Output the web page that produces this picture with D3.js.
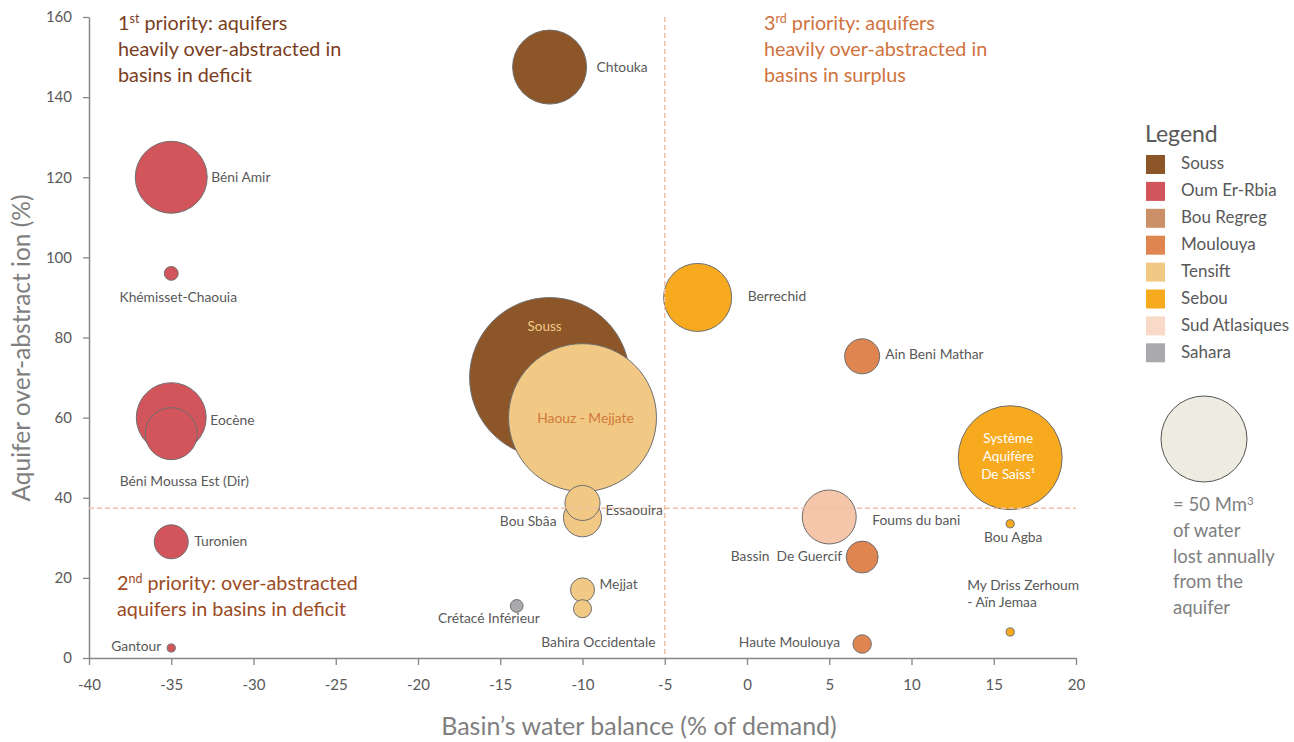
<!DOCTYPE html>
<html><head><meta charset="utf-8">
<script src="https://cdn.jsdelivr.net/npm/d3@7/dist/d3.min.js"></script>
<style>
body{margin:0;background:#fff;}
svg{font-family:Lato,"Open Sans",sans-serif;}
text{white-space:pre;}
</style></head>
<body><svg id="c" width="1294" height="742"></svg>
<script>
// ---------- DATA ----------
const names = ["Souss","Chtouka","Béni Amir","Khémisset-Chaouia","Eocène","Béni Moussa Est (Dir)","Turonien","Gantour",
  "Haouz - Mejjate","Bou Sbâa","Essaouira","Mejjat","Bahira Occidentale","Crétacé Inférieur",
  "Berrechid","Ain Beni Mathar","Système Aquifère De Saiss¹","Foums du bani","Bou Agba","Bassin  De Guercif",
  "My Driss Zerhoum - Aïn Jemaa","Haute Moulouya"];
const basinOf = ["Souss","Souss","Oum Er-Rbia","Oum Er-Rbia","Oum Er-Rbia","Oum Er-Rbia","Oum Er-Rbia","Oum Er-Rbia",
  "Tensift","Tensift","Tensift","Tensift","Tensift","Sahara",
  "Sebou","Moulouya","Sebou","Sud Atlasiques","Sebou","Moulouya","Sebou","Moulouya"];
const waterBalance = [-12,-12,-35,-35,-35,-35,-35,-35,-10,-10,-10,-10,-10,-14,-3,7,16,5,16,7,16,7];
const overAbstraction = [70,147.5,120,96,60,56,29,2.5,60,35,38.7,17,12.3,13,90,75.3,50,35.2,33.5,25.2,6.5,3.5];
const volumeLost = [173,37,35,1.3,33,18.3,7.8,0.45,148,9.8,8.3,3.9,2.2,1.1,31.3,8.3,73,19.7,0.45,6.9,0.45,2.3];

const basins = ["Souss","Oum Er-Rbia","Bou Regreg","Moulouya","Tensift","Sebou","Sud Atlasiques","Sahara"];
const basinColors = ["#8c5628","#d2555b","#cc9068","#df8550","#f1c985","#f8aa1f","#f6c6aa","#a9a9ae"];

const xTicks = [-40,-35,-30,-25,-20,-15,-10,-5,0,5,10,15,20];
const yTicks = [0,20,40,60,80,100,120,140,160];
const thresholdX = -5, thresholdY = 37.4;
const refVolume = 50;

// ---------- LAYOUT (label offsets in px) ----------
const labelLayout = {
  "Souss":{a:"middle",dx:-5,dy:-50,fill:"#f1c985",size:13.5},
  "Chtouka":{a:"start",dx:47,dy:1},
  "Béni Amir":{a:"start",dx:40,dy:1},
  "Khémisset-Chaouia":{a:"middle",dx:7,dy:25},
  "Eocène":{a:"start",dx:39,dy:4},
  "Béni Moussa Est (Dir)":{a:"middle",dx:13,dy:49},
  "Turonien":{a:"start",dx:23,dy:1},
  "Gantour":{a:"end",dx:-10,dy:0},
  "Haouz - Mejjate":{a:"middle",dx:3,dy:2,fill:"#d07a3a",size:13.8},
  "Bou Sbâa":{a:"end",dx:-26,dy:5},
  "Essaouira":{a:"start",dx:23,dy:9},
  "Mejjat":{a:"start",dx:17,dy:-4},
  "Bahira Occidentale":{a:"end",dx:73,dy:35},
  "Crétacé Inférieur":{a:"end",dx:23,dy:14},
  "Berrechid":{a:"start",dx:50,dy:0},
  "Ain Beni Mathar":{a:"start",dx:23,dy:-1},
  "Système Aquifère De Saiss¹":{a:"middle",dx:-2,dy:-18,fill:"#ffffff",size:13.5,lines:["Système","Aquifère","De Saiss¹"],lh:18},
  "Foums du bani":{a:"start",dx:43,dy:5},
  "Bou Agba":{a:"middle",dx:3,dy:15},
  "Bassin  De Guercif":{a:"end",dx:-20,dy:0},
  "My Driss Zerhoum - Aïn Jemaa":{a:"start",dx:-43,dy:-46,lines:["My Driss Zerhoum","- Aïn Jemaa"],lh:17},
  "Haute Moulouya":{a:"end",dx:-22,dy:0}
};

const svg = d3.select("#c");
const M = {l:89, r:1076, t:17, b:658};
const x = d3.scaleLinear().domain([-40,20]).range([M.l,M.r]);
const y = d3.scaleLinear().domain([0,160]).range([M.b,M.t]);
const rScale = d3.scaleSqrt().domain([0,refVolume]).range([0,43]);
const color = d3.scaleOrdinal().domain(basins).range(basinColors);

const axisCol = "#868686", tickTxt = "#595959";

// axes
const gx = svg.append("g").attr("transform",`translate(0,${M.b})`)
  .call(d3.axisBottom(x).tickValues(xTicks).tickFormat(d=>String(d)).tickSize(7).tickSizeOuter(0).tickPadding(14));
const gy = svg.append("g").attr("transform",`translate(${M.l},0)`)
  .call(d3.axisLeft(y).tickValues(yTicks).tickFormat(d=>String(d)).tickSize(6).tickSizeOuter(0).tickPadding(11));
[gx,gy].forEach(g=>{
  g.select(".domain").attr("stroke",axisCol).attr("stroke-width",1.5);
  g.selectAll(".tick line").attr("stroke",axisCol).attr("stroke-width",1.3);
  g.selectAll(".tick text").attr("fill",tickTxt).attr("font-size",15).attr("font-family","Lato,sans-serif");
});

// bubbles
const data = names.map((n,i)=>({name:n,basin:basinOf[i],x:waterBalance[i],y:overAbstraction[i],v:volumeLost[i]}));
svg.append("g").selectAll("circle").data(data).join("circle")
  .attr("cx",d=>x(d.x)).attr("cy",d=>y(d.y)).attr("r",d=>rScale(d.v))
  .attr("fill",d=>color(d.basin)).attr("stroke","#6e6e6e").attr("stroke-width",1);

// dashed thresholds
const dashCol = "#f0bfa6";
svg.append("line").attr("x1",x(thresholdX)).attr("x2",x(thresholdX)).attr("y1",y(160)).attr("y2",y(0))
  .attr("stroke",dashCol).attr("stroke-width",1.5).attr("stroke-dasharray","5,3");
svg.append("line").attr("x1",x(-40)).attr("x2",x(20)).attr("y1",y(thresholdY)).attr("y2",y(thresholdY))
  .attr("stroke",dashCol).attr("stroke-width",1.5).attr("stroke-dasharray","5,3");

// labels
const lg = svg.append("g");
data.forEach(d=>{
  const L = labelLayout[d.name];
  const cx = x(d.x)+L.dx, cy = y(d.y)+L.dy;
  const t = lg.append("text").attr("x",cx).attr("y",cy).attr("text-anchor",L.a)
    .attr("dominant-baseline","middle").attr("font-size",L.size||13.8).attr("fill",L.fill||"#595959");
  if(L.lines){
    L.lines.forEach((s,i)=>t.append("tspan").attr("x",cx).attr("y",cy+i*L.lh).text(s));
  } else t.text(d.name);
});

// annotations
function note(x0,y0,col,sup,head,lines){
  const fs = 19.8;
  const t = svg.append("text").attr("x",x0).attr("y",y0).attr("font-size",fs).attr("fill",col);
  t.append("tspan").text(head[0]);
  t.append("tspan").attr("font-size",12.5).attr("dy",-7).text(sup);
  t.append("tspan").attr("dy",7).text(head[1]);
  lines.forEach((s,i)=>svg.append("text").attr("x",x0).attr("y",y0+26*(i+1)).attr("font-size",fs).attr("fill",col).text(s));
}
note(118,30,"#7a3e22","st",["1"," priority: aquifers"],["heavily over-abstracted in","basins in deficit"]);
note(764,30,"#cf7340","rd",["3"," priority: aquifers"],["heavily over-abstracted in","basins in surplus"]);
note(117,590,"#9c4c24","nd",["2"," priority: over-abstracted"],["aquifers in basins in deficit"]);

// axis titles
svg.append("text").attr("x",639).attr("y",735).attr("text-anchor","middle").attr("font-size",25)
  .attr("fill","#7f7f7f").text("Basin’s water balance (% of demand)");
svg.append("text").attr("transform","translate(30,348) rotate(-90)").attr("text-anchor","middle").attr("font-size",24.5)
  .attr("fill","#7f7f7f").text("Aquifer over-abstract ion (%)");

// legend
svg.append("text").attr("x",1145).attr("y",142).attr("font-size",23).attr("fill","#595959").text("Legend");
const leg = svg.append("g").selectAll("g").data(basins).join("g")
  .attr("transform",(d,i)=>`translate(1146,${155+i*26.9})`);
leg.append("rect").attr("width",19).attr("height",19).attr("fill",d=>color(d))
  .attr("fill-opacity",d=>d==="Sud Atlasiques"?0.65:1);
leg.append("text").attr("x",35).attr("y",10).attr("dominant-baseline","middle").attr("font-size",17)
  .attr("fill","#595959").text(d=>d);

// reference bubble
svg.append("circle").attr("cx",1204).attr("cy",439).attr("r",rScale(refVolume))
  .attr("fill","#eeebe0").attr("stroke","#555").attr("stroke-width",1);
const refLines = ["of water","lost annually","from the","aquifer"];
const rt = svg.append("text").attr("x",1173).attr("y",511).attr("font-size",18.5).attr("fill","#7f7f7f");
rt.append("tspan").text("= 50 Mm");
rt.append("tspan").attr("font-size",11.5).attr("dy",-6).text("3");
refLines.forEach((s,i)=>svg.append("text").attr("x",1173).attr("y",537+i*25.5).attr("font-size",18.5).attr("fill","#7f7f7f").text(s));
</script></body></html>
